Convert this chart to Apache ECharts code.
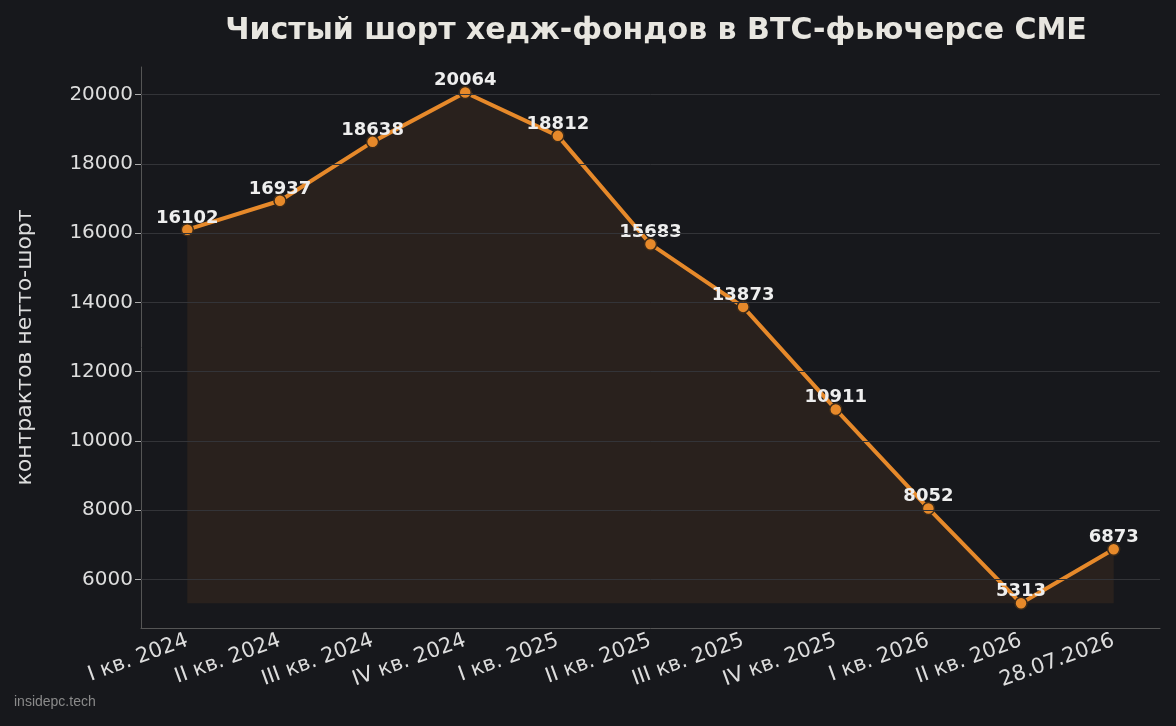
<!DOCTYPE html>
<html><head><meta charset="utf-8">
<script src="https://cdn.jsdelivr.net/npm/echarts@6/dist/echarts.min.js"></script>
<style>html,body{margin:0;background:#17181c}#c{width:1176px;height:726px}</style>
</head><body><div id="c"></div>
<script>
const categories=['I кв. 2024','II кв. 2024','III кв. 2024','IV кв. 2024','I кв. 2025','II кв. 2025','III кв. 2025','IV кв. 2025','I кв. 2026','II кв. 2026','28.07.2026'];
const values=[16102,16937,18638,20064,18812,15683,13873,10911,8052,5313,6873];
const yTicks=[6000,8000,10000,12000,14000,16000,18000,20000];
const chart=echarts.init(document.getElementById('c'));
const font='DejaVu Sans';
chart.setOption({
 backgroundColor:'#17181c',
 title:{text:'Чистый шорт хедж-фондов в BTC-фьючерсе CME',left:651,top:11,textAlign:'center',
  textStyle:{color:'#e8e6e0',fontSize:30,fontWeight:'bold',fontFamily:font}},
 graphic:[{type:'text',left:14,top:695,style:{text:'insidepc.tech',fill:'#8a8a8a',font:'14px Liberation Sans'}}],
 grid:{left:141,right:16,top:67,bottom:98},
 xAxis:{type:'category',data:categories,boundaryGap:true,
  axisLine:{lineStyle:{color:'#555'}},axisTick:{alignWithLabel:true,length:7,lineStyle:{color:'#aaa'}},
  axisLabel:{rotate:20,interval:0,color:'#ddd',fontSize:21,fontFamily:font,margin:12}},
 yAxis:{type:'value',min:4600,max:20800,name:'контрактов нетто-шорт',nameLocation:'middle',nameGap:105,
  nameTextStyle:{color:'#ddd',fontSize:22,fontFamily:font},
  axisLine:{show:true,lineStyle:{color:'#555'}},
  axisTick:{show:true,customValues:yTicks,length:6,lineStyle:{color:'#aaa'}},
  axisLabel:{customValues:yTicks,formatter:v=>String(v),color:'#ddd',fontSize:20,fontFamily:font},
  splitLine:{show:false}},
 series:[{type:'line',data:values,symbol:'circle',symbolSize:12,
  lineStyle:{color:'#e6892a',width:4},
  itemStyle:{color:'#e6892a',borderColor:'#3a2a1a',borderWidth:1.5},
  areaStyle:{origin:5313,color:'rgba(230,137,42,0.13)'},
  label:{show:true,position:'top',distance:-4,color:'#eee',fontSize:18,fontWeight:'bold',fontFamily:font},
  markLine:{silent:true,symbol:'none',label:{show:false},lineStyle:{color:'#333438',type:'solid',width:1},
   data:yTicks.map(v=>({yAxis:v}))},
  z:3}]
});
</script></body></html>
